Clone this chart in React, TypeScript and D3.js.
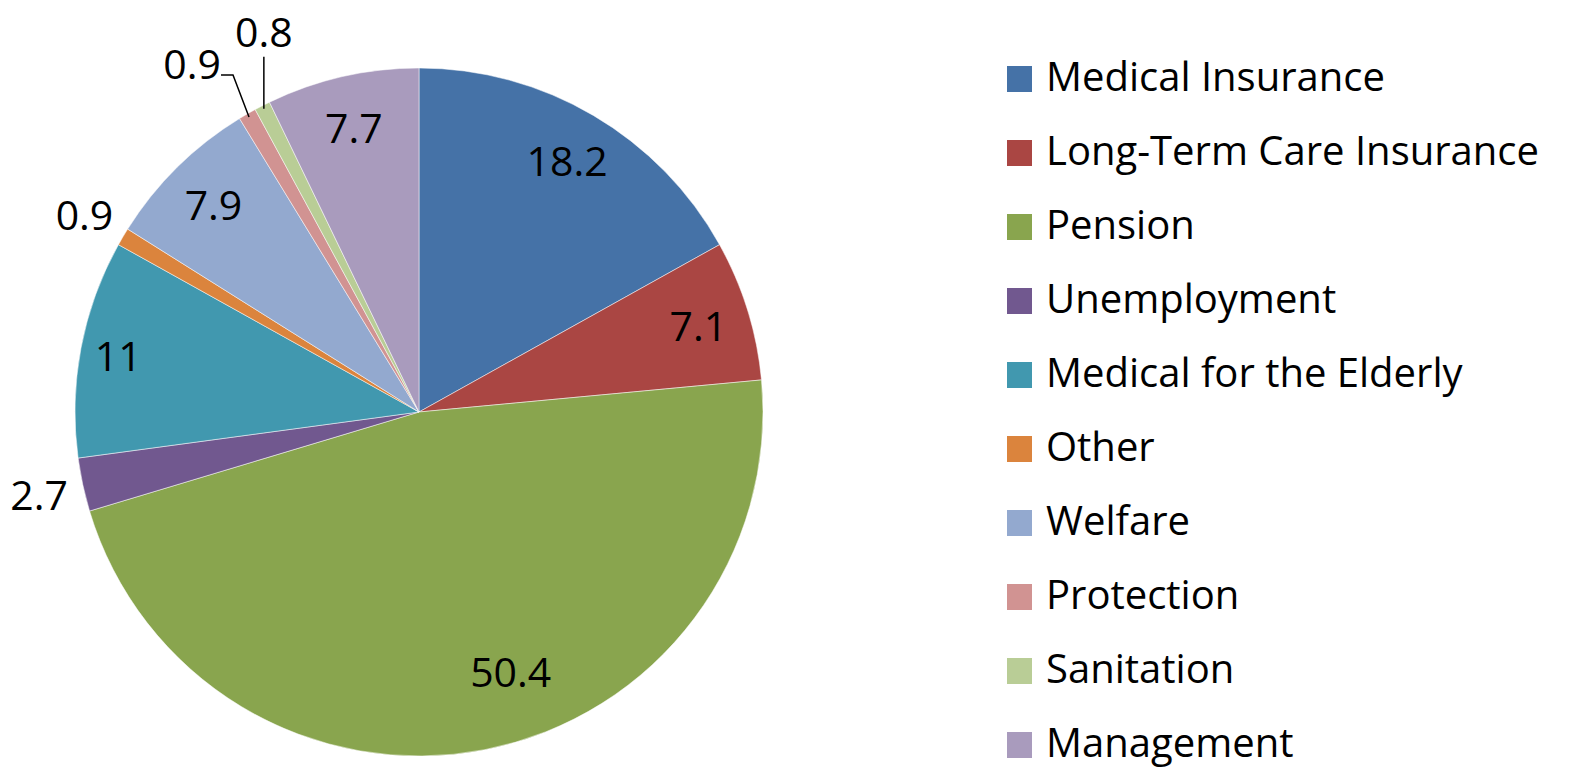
import React from "react";
import * as d3 from "d3";

const categories = [
  "Medical Insurance",
  "Long-Term Care Insurance",
  "Pension",
  "Unemployment",
  "Medical for the Elderly",
  "Other",
  "Welfare",
  "Protection",
  "Sanitation",
  "Management",
];
const values = [18.2, 7.1, 50.4, 2.7, 11, 0.9, 7.9, 0.9, 0.8, 7.7];
const colors = [
  "#4572A7", "#AA4643", "#89A54E", "#71588F", "#4198AF",
  "#DB843D", "#93A9CF", "#D19392", "#B9CD96", "#A99BBD",
];
const valueLabels = ["18.2", "7.1", "50.4", "2.7", "11", "0.9", "7.9", "0.9", "0.8", "7.7"];
// label placement: "in" inside, "out" outside, "leader" with leader line
const placement = ["in", "in", "in", "out", "in", "out", "in", "leader", "leader", "in"];

const W = 1571, H = 768;
const cx = 419, cy = 412, R = 344;
const FONT = "'Open Sans', 'Noto Sans', sans-serif";
const LABEL_SIZE = 41;
const LEGEND_SIZE = 40;

export default function App() {
  const pie = d3.pie<number>().sort(null).value((d) => d)(values);
  const arc = d3.arc<d3.PieArcDatum<number>>().innerRadius(0).outerRadius(R);
  const polar = (a: number, r: number): [number, number] => [Math.sin(a) * r, -Math.cos(a) * r];

  return (
    <svg width={W} height={H} style={{ position: "absolute", left: 0, top: 0, background: "#fff" }}>
      <g transform={`translate(${cx},${cy})`}>
        {pie.map((p, i) => (
          <path key={i} d={arc(p) || ""} fill={colors[i]} stroke="#fff" strokeWidth={0.5} />
        ))}
        {pie.map((p, i) => {
          const span = p.endAngle - p.startAngle;
          let mid = (p.startAngle + p.endAngle) / 2;
          if (placement[i] === "in") {
            let rf = 0.85;
            if (values[i] > 40) { rf = 0.8; mid = p.startAngle + span * 0.45; }
            if (values[i] === 11) rf = 0.89;
            const [x, y] = polar(mid, R * rf);
            return (
              <text key={"l" + i} x={x} y={y} textAnchor="middle" dominantBaseline="central"
                fontFamily={FONT} fontSize={LABEL_SIZE} fill="#000">{valueLabels[i]}</text>
            );
          }
          if (placement[i] === "out") {
            const [x, y] = polar(mid, R * 1.13);
            return (
              <text key={"l" + i} x={x} y={y} textAnchor="middle" dominantBaseline="central"
                fontFamily={FONT} fontSize={LABEL_SIZE} fill="#000">{valueLabels[i]}</text>
            );
          }
          // leader line labels
          const [ex, ey] = polar(mid, R * 0.99);
          if (i === 7) {
            const [bx, by] = [ex - 16, ey - 42];
            return (
              <g key={"l" + i}>
                <polyline points={`${ex},${ey} ${bx},${by} ${bx - 12},${by}`} fill="none" stroke="#000" strokeWidth={1.5} />
                <text x={bx - 12} y={by - 12} textAnchor="end" dominantBaseline="central"
                  fontFamily={FONT} fontSize={LABEL_SIZE} fill="#000">{valueLabels[i]}</text>
              </g>
            );
          }
          const [bx, by] = [ex, ey - 52];
          return (
            <g key={"l" + i}>
              <polyline points={`${ex},${ey} ${bx},${by}`} fill="none" stroke="#000" strokeWidth={1.5} />
              <text x={bx} y={by - 26} textAnchor="middle" dominantBaseline="central"
                fontFamily={FONT} fontSize={LABEL_SIZE} fill="#000">{valueLabels[i]}</text>
            </g>
          );
        })}
      </g>
      <g transform="translate(1007,79)">
        {categories.map((c, i) => (
          <g key={c} transform={`translate(0,${i * 74})`}>
            <rect x={0} y={-13} width={25} height={26} fill={colors[i]} />
            <text x={39} y={12} fontFamily={FONT} fontSize={LEGEND_SIZE} fill="#000">{c}</text>
          </g>
        ))}
      </g>
    </svg>
  );
}
